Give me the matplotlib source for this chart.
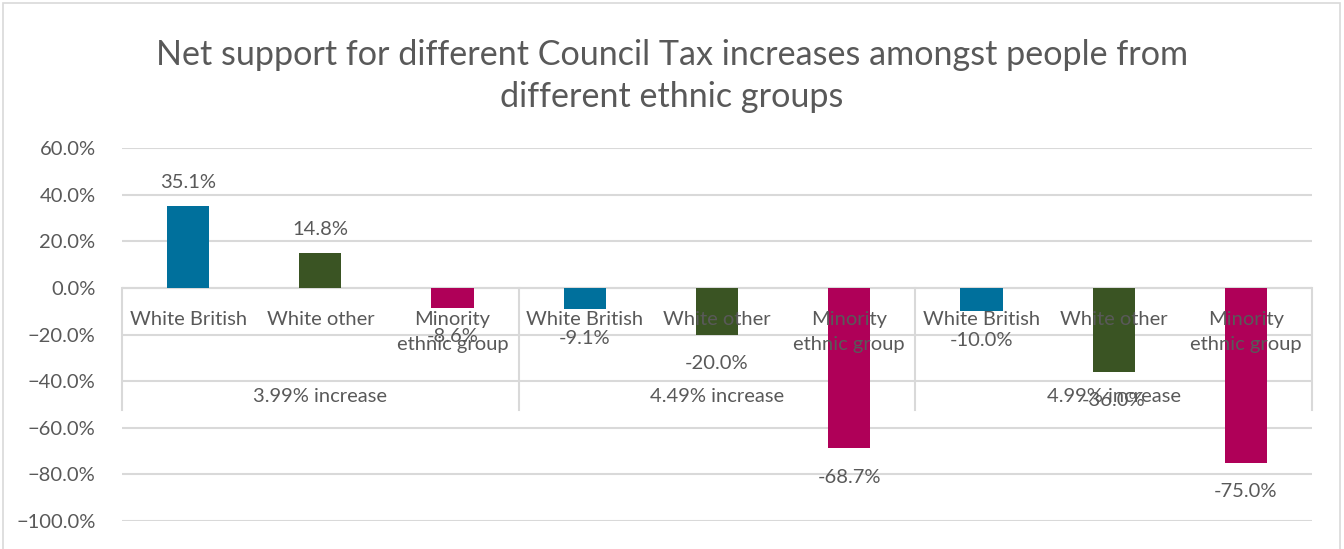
import matplotlib.pyplot as plt
import numpy as np
from matplotlib.patches import Rectangle
from matplotlib.ticker import PercentFormatter

plt.rcParams["font.family"] = ["Lato", "DejaVu Sans"]

increases = ["3.99% increase", "4.49% increase", "4.99% increase"]
groups = ["White British", "White other", "Minority\nethnic group"]
values = [
    [35.1, 14.8, -8.6],
    [-9.1, -20.0, -68.7],
    [-10.0, -36.0, -75.0],
]
colors = ["#00709C", "#3A5423", "#AF0058"]

TEXT = "#595959"
GRID = "#D9D9D9"

fig = plt.figure(figsize=(13.44, 5.49), dpi=100)
ax = fig.add_axes([122 / 1344, 1 - 521 / 549, 1190 / 1344, 373 / 549])

x = np.arange(len(increases) * len(groups))
heights = [v for row in values for v in row]
bar_colors = colors * len(increases)
bars = ax.bar(x, heights, width=0.32, color=bar_colors, zorder=2)

ax.set_xlim(-0.5, len(x) - 0.5)
ax.set_ylim(-100, 60)
ax.set_yticks(np.arange(-100, 61, 20))
ax.yaxis.set_major_formatter(PercentFormatter(decimals=1))
ax.tick_params(axis="y", length=0, pad=19, labelsize=14.5, labelcolor=TEXT)
ax.set_xticks([])
ax.grid(axis="y", color=GRID, linewidth=1.5, zorder=0)
for s in ax.spines.values():
    s.set_visible(False)

# value labels above / below each bar
for b, v in zip(bars, heights):
    off = 24 if v >= 0 else -29
    ax.annotate(f"{v:.1f}%", (b.get_x() + b.get_width() / 2, v),
                xytext=(0, off), textcoords="offset pixels",
                ha="center", va="center", fontsize=14.5, color=TEXT, zorder=4)

# two-level category axis drawn below the zero line
for i, xi in enumerate(x):
    ax.annotate(groups[i % len(groups)], (xi, 0), xytext=(0, -23),
                textcoords="offset pixels", ha="center", va="top",
                fontsize=14.5, color=TEXT, linespacing=1.55, zorder=3)
for j, name in enumerate(increases):
    cx = j * len(groups) + (len(groups) - 1) / 2
    ax.annotate(name, (cx, 0), xytext=(0, -109), textcoords="offset pixels",
                ha="center", va="center", fontsize=14.5, color=TEXT, zorder=3)

box_depth = 122  # pixels below the zero line
for k in range(len(increases) + 1):
    xe = k * len(groups) - 0.5
    x0, y0 = ax.transData.transform((xe, 0))
    ax.plot([x0, x0], [y0, y0 - box_depth], transform=None, color=GRID,
            linewidth=1.5, zorder=1, clip_on=False)
ax.axhline(0, color=GRID, linewidth=1.5, zorder=1)

title_lines = ["Net support for different Council Tax increases amongst people from",
               "different ethnic groups"]
for line, yp in zip(title_lines, [55, 97]):
    fig.text(0.5, 1 - yp / 549, line, ha="center", va="center",
             fontsize=24.6, color=TEXT)

fig.patches.append(Rectangle((3 / 1344, -0.01), 1337 / 1344, 1 - 3 / 549 + 0.01,
                             transform=fig.transFigure, fill=False,
                             edgecolor=GRID, linewidth=1.2))

plt.savefig("out.png", dpi=100)
